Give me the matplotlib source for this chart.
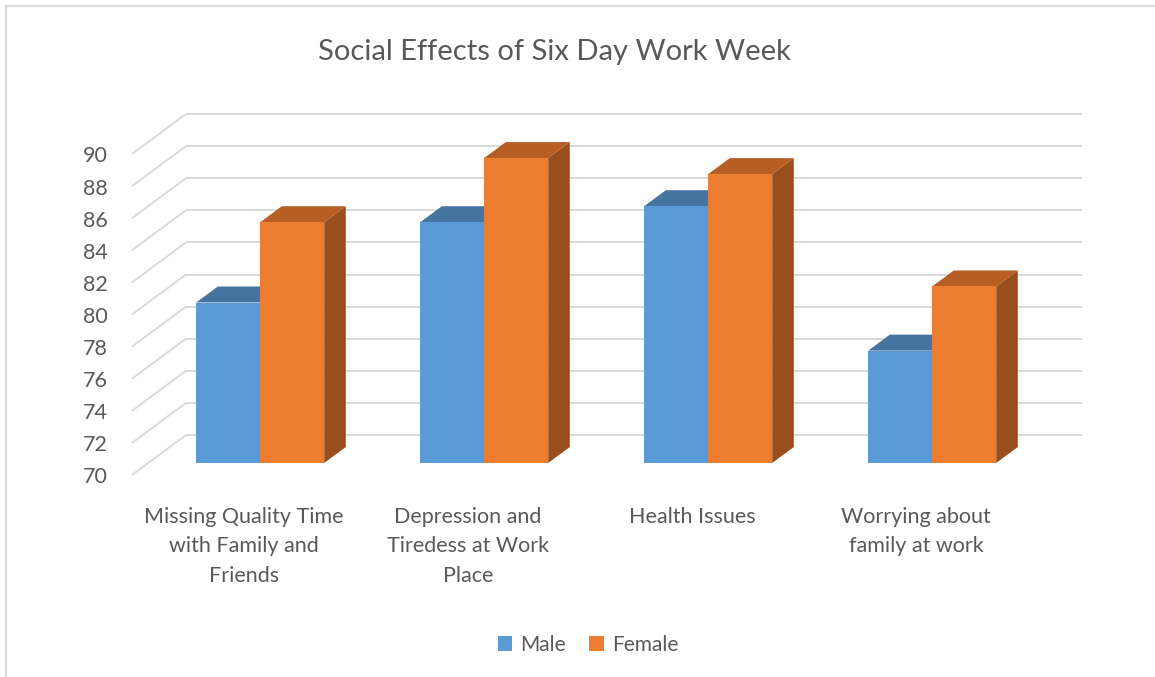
import matplotlib
matplotlib.use('Agg')
import matplotlib.pyplot as plt
from matplotlib.patches import Polygon, Patch
from matplotlib.lines import Line2D

# ---------------- data ----------------
categories = ["Missing Quality Time\nwith Family and\nFriends",
              "Depression and\nTiredess at Work\nPlace",
              "Health Issues",
              "Worrying about\nfamily at work"]
male = [80, 85, 86, 77]
female = [85, 89, 88, 81]
y_ticks = [70, 72, 74, 76, 78, 80, 82, 84, 86, 88, 90]
series_names = ["Male", "Female"]
title = "Social Effects of Six Day Work Week"

# ---------------- style ----------------
FONT = ['Lato', 'DejaVu Sans']
TXT = '#595959'
GRID = '#D9D9D9'
male_cols = ('#5B9BD5', '#4674A1', '#3E6891')     # front, top, side
female_cols = ('#ED7D31', '#B65E23', '#9A4E1C')

W, H = 1155, 677
fig = plt.figure(figsize=(W / 100, H / 100), dpi=100)
ax = fig.add_axes([0, 0, 1, 1])

PX_CAT = 224.0     # pixels per category
PX_UNIT = 16.05    # pixels per value unit
X0PX, Y70PX = 244, 475
ax.set_xlim(-X0PX / PX_CAT, (W - X0PX) / PX_CAT)
ax.set_ylim(70 - (H - Y70PX) / PX_UNIT, 70 + Y70PX / PX_UNIT)
ax.axis('off')

base = y_ticks[0]
DX, DY = 54 / PX_CAT, 40 / PX_UNIT   # full depth of the 3-D floor
f0, f1 = 0.3, 0.7                    # bar depth slice
bw = 1 / 3.5
n = len(categories)
left, right = -0.5, n - 0.5

# walls
for v in y_ticks:
    ax.plot([left + DX, right + DX], [v + DY, v + DY], color=GRID, lw=1.4, zorder=1,
            solid_capstyle='butt')
    ax.plot([left, left + DX], [v, v + DY], color=GRID, lw=1.4, zorder=1,
            solid_capstyle='butt')
    ax.text(left - 24 / PX_CAT, v - 0.15, str(v), ha='right', va='center',
            fontsize=15.5, color=TXT, family=FONT)


def bar3d(a, b, v, cols, z):
    fx0, fy0 = f0 * DX, f0 * DY
    fx1, fy1 = f1 * DX, f1 * DY
    side = [(b + fx0, base + fy0), (b + fx1, base + fy1), (b + fx1, v + fy1), (b + fx0, v + fy0)]
    top = [(a + fx0, v + fy0), (b + fx0, v + fy0), (b + fx1, v + fy1), (a + fx1, v + fy1)]
    front = [(a + fx0, base + fy0), (b + fx0, base + fy0), (b + fx0, v + fy0), (a + fx0, v + fy0)]
    ax.add_patch(Polygon(side, closed=True, facecolor=cols[2], edgecolor='none', zorder=z))
    ax.add_patch(Polygon(top, closed=True, facecolor=cols[1], edgecolor='none', zorder=z))
    ax.add_patch(Polygon(front, closed=True, facecolor=cols[0], edgecolor='none', zorder=z + 0.5))


for i in range(n):
    bar3d(i - bw, i, male[i], male_cols, 2 + i * 2)
    bar3d(i, i + bw, female[i], female_cols, 3 + i * 2)
    ax.text(i, 70 + (475 - 507) / PX_UNIT, categories[i], ha='center', va='top',
            fontsize=15.5, color=TXT, family=FONT, linespacing=1.58)

ax.text(554 / PX_CAT - X0PX / PX_CAT, 70 + (475 - 52) / PX_UNIT, title, ha='center',
        va='center', fontsize=21, color=TXT, family=FONT)

handles = [Patch(facecolor=male_cols[0]), Patch(facecolor=female_cols[0])]
fig.legend(handles, series_names, loc='center', bbox_to_anchor=(588 / W, 1 - 645 / H),
           ncol=2, frameon=False, handlelength=0.7, handleheight=0.7, handletextpad=0.4,
           columnspacing=1.1, prop={'family': FONT, 'size': 15}, labelcolor=TXT)

# chart-area border (top and left edges visible)
fig.add_artist(Line2D([6 / W, 1], [1 - 6 / H, 1 - 6 / H], color=GRID, lw=1.6))
fig.add_artist(Line2D([6 / W, 6 / W], [0, 1 - 6 / H], color=GRID, lw=1.6))

fig.savefig('out.png', dpi=100)
